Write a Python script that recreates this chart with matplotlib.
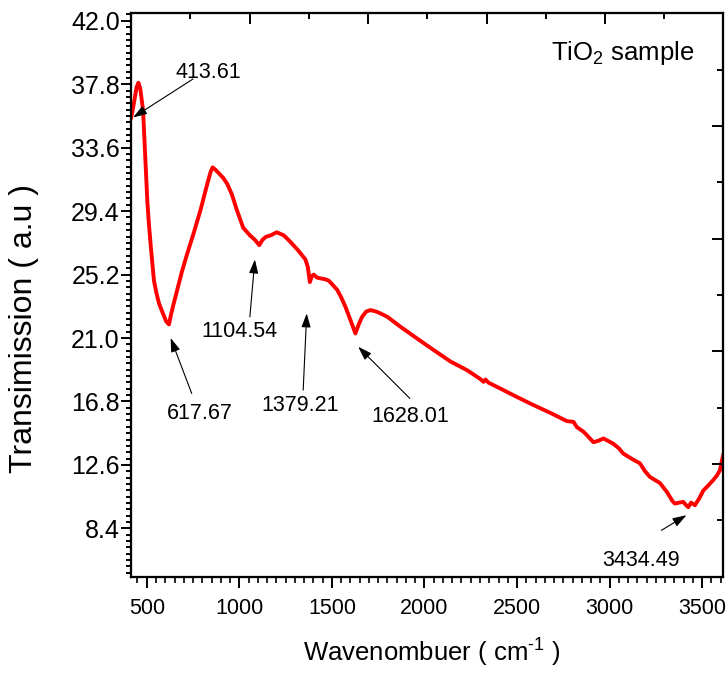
import matplotlib
matplotlib.use("Agg")
import matplotlib.pyplot as plt
from matplotlib.ticker import AutoMinorLocator, FixedLocator

plt.rcParams['font.family'] = ['Liberation Sans', 'DejaVu Sans']
plt.rcParams['mathtext.fontset'] = 'custom'
plt.rcParams['mathtext.rm'] = 'Liberation Sans'
plt.rcParams['mathtext.it'] = 'Liberation Sans:italic'

# ---- data ----
wavenumber = [416, 430, 445, 455, 465, 480, 490, 503, 512, 522, 539, 552, 566, 585, 605,
              620, 632, 648, 665, 690, 719, 755, 791, 827, 845, 856, 870, 890, 913, 935,
              960, 986, 1021, 1057, 1084, 1108, 1125, 1144, 1170, 1202, 1240, 1273, 1318,
              1357, 1370, 1381, 1392, 1402, 1420, 1438, 1460, 1483, 1528, 1550, 1573, 1600,
              1627, 1645, 1663, 1685, 1708, 1740, 1762, 1800, 1870, 1960, 2050, 2140, 2230,
              2300, 2319, 2330, 2345, 2409, 2499, 2589, 2679, 2769, 2805, 2823, 2859, 2913,
              2940, 2967, 2990, 3020, 3050, 3074, 3120, 3164, 3190, 3218, 3245, 3272, 3310,
              3340, 3353, 3375, 3398, 3412, 3425, 3440, 3461, 3485, 3506, 3530, 3560, 3580,
              3596, 3605, 3614]
transmission = [35.6, 36.5, 37.6, 37.9, 37.5, 36.1, 33.5, 30.1, 28.5, 27.05, 24.8, 24.0, 23.3,
                22.7, 22.1, 21.9, 22.6, 23.4, 24.2, 25.4, 26.6, 28.0, 29.5, 31.2, 32.0, 32.3,
                32.15, 31.9, 31.6, 31.2, 30.5, 29.5, 28.3, 27.8, 27.5, 27.15, 27.5, 27.7, 27.8,
                28.0, 27.8, 27.4, 26.8, 26.2, 25.7, 24.7, 25.1, 25.2, 25.0, 24.95, 24.9, 24.8,
                24.2, 23.7, 23.07, 22.2, 21.3, 21.9, 22.4, 22.75, 22.85, 22.75, 22.63, 22.4,
                21.75, 20.97, 20.2, 19.45, 18.87, 18.3, 18.1, 18.25, 18.05, 17.66, 17.1, 16.56,
                16.05, 15.5, 15.45, 15.1, 14.8, 14.1, 14.2, 14.35, 14.2, 14.0, 13.7, 13.35,
                13.0, 12.7, 12.2, 11.8, 11.6, 11.4, 10.8, 10.2, 10.04, 10.1, 10.15, 9.95, 9.8,
                10.1, 9.93, 10.4, 10.9, 11.2, 11.6, 11.9, 12.25, 12.8, 13.25]

peak_labels = ["413.61", "617.67", "1104.54", "1379.21", "1628.01", "3434.49"]
arrow_head_x = [426, 629, 1084, 1364, 1642, 3415]
arrow_head_y = [35.6, 21.0, 26.2, 22.63, 20.42, 9.27]
arrow_tail_x = [750, 743, 1057, 1345, 1921, 3280]
arrow_tail_y = [38.15, 17.33, 22.4, 17.55, 17.0, 8.27]
label_x = [831, 789, 998, 1331, 1921, 3170]
label_y = [38.6, 16.03, 21.44, 16.5, 15.83, 6.26]

y_ticks = [8.4, 12.6, 16.8, 21.0, 25.2, 29.4, 33.6, 37.8, 42.0]
x_ticks = [500, 1000, 1500, 2000, 2500, 3000, 3500]

# ---- figure ----
fig = plt.figure(figsize=(7.26, 6.77), dpi=100)
ax = fig.add_axes([0.1807, 0.1482, 0.8158, 0.8322])

ax.plot(wavenumber, transmission, color='#ff0000', lw=2.8, solid_joinstyle='round')

ax.set_xlim(416, 3615)
ax.set_ylim(5.2, 42.5)

ax.yaxis.set_major_locator(FixedLocator(y_ticks))
ax.set_yticklabels([f"{v:.1f}" for v in y_ticks])
ax.xaxis.set_major_locator(FixedLocator(x_ticks))
ax.xaxis.set_minor_locator(AutoMinorLocator(10))
ax.yaxis.set_minor_locator(AutoMinorLocator(10))

ax.tick_params(axis='y', which='major', direction='out', length=7.2, width=1.4,
               labelsize=18, pad=1)
ax.tick_params(axis='y', which='minor', direction='out', length=3.6, width=1.4)
ax.tick_params(axis='x', which='major', direction='out', length=8, width=1.4,
               labelsize=15.5, pad=7)
ax.tick_params(axis='x', which='minor', direction='out', length=4.3, width=1.2)
ax.tick_params(top=False, right=False)

for s in ax.spines.values():
    s.set_linewidth(1.5)

# top and right decorative tick axes (unlabelled, ticks inward)
axt = ax.twiny()
axt.set_xlim(0, 10)
axt.set_xticks([2, 4, 6, 8, 10])
axt.set_xticks([1, 3, 5, 7, 9], minor=True)
axt.tick_params(axis='x', which='major', direction='in', length=8, width=1.4, labeltop=False)
axt.tick_params(axis='x', which='minor', direction='in', length=4, width=1.4)
axr = ax.twinx()
axr.set_ylim(0, 10)
axr.set_yticks([2, 4, 6, 8])
axr.set_yticks([1, 3, 5, 7, 9], minor=True)
axr.tick_params(axis='y', which='major', direction='in', length=8, width=1.4, labelright=False)
axr.tick_params(axis='y', which='minor', direction='in', length=4, width=1.4)
for a in (axt, axr):
    for s in a.spines.values():
        s.set_linewidth(1.5)

# axis labels
ax.set_xlabel(r'Wavenombuer ( cm$^{\mathregular{\text{-}1}}$ )', fontsize=18.5, va='center')
ax.xaxis.set_label_coords(0.507, -0.1354)
ax.set_ylabel('Transimission ( a.u )', fontsize=23, va='center', ha='center')
ax.yaxis.set_label_coords(-0.1817, 0.4405)

# annotations
for lab, hx, hy, tx, ty, lx, ly in zip(peak_labels, arrow_head_x, arrow_head_y,
                                       arrow_tail_x, arrow_tail_y, label_x, label_y):
    ax.annotate('', xy=(hx, hy), xytext=(tx, ty),
                arrowprops=dict(arrowstyle='-|>,head_length=0.6,head_width=0.2',
                                color='black', lw=0.8, mutation_scale=14,
                                shrinkA=0, shrinkB=0))
    ax.text(lx, ly, lab, fontsize=15.5, ha='center', va='center')

ax.text(3069, 39.9, r'TiO$_{\mathregular{2}}$ sample', fontsize=18.5, ha='center', va='center')

fig.savefig('out.png', dpi=100)
